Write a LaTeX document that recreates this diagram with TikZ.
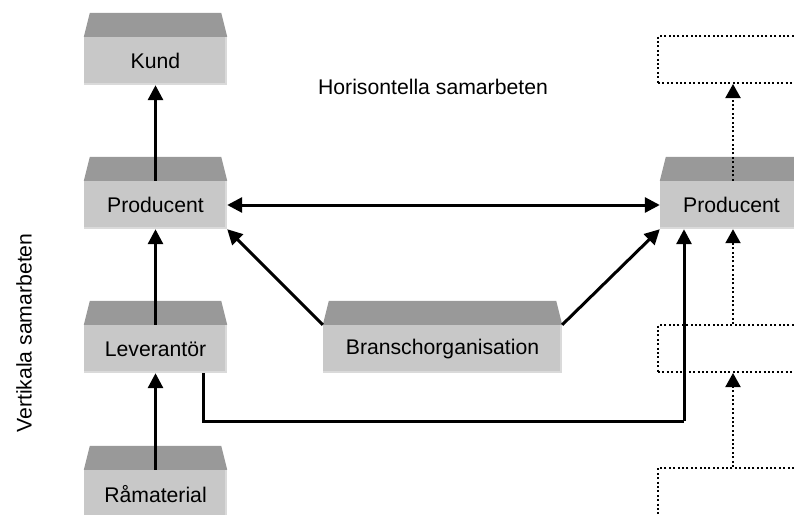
\documentclass[tikz,border=0pt]{standalone}
\usepackage{fontspec}
\setmainfont{Liberation Sans}
\usetikzlibrary{arrows.meta,calc}
\definecolor{frontgray}{HTML}{C8C8C8}
\definecolor{topgray}{HTML}{999999}
\definecolor{edgegray}{HTML}{DADADA}
% slanted top of a raised box, drawn above its front face
\newcommand\drawtop[1]{%
  \fill[topgray] (#1.north west) -- ++(6,-24) -- ($(#1.north east)+(-6,-24)$) -- (#1.north east) -- cycle;
  \draw[edgegray,line width=2pt] ($(#1.north east)+(-1,0)$) -- ($(#1.south east)+(-1,-1)$) -- ($(#1.south west)+(0,-1)$);
}
\begin{document}
\begin{tikzpicture}[x=1pt,y=-1pt,
  font=\fontsize{21.2}{25}\selectfont,
  box3d/.style={fill=frontgray,inner sep=0pt,minimum height=48pt,minimum width=143pt},
  dotbox/.style={draw,line width=2pt,dash pattern=on 2pt off 2.4pt,inner sep=0pt,minimum width=150pt},
  conn/.style={line width=3pt,-{Triangle[length=15pt,width=15pt]}},
  dconn/.style={line width=2pt,dash pattern=on 2pt off 2.4pt,-{Triangle[length=14pt,width=15pt]}}]
\useasboundingbox (0,0) rectangle (794,514);

% raised boxes
\node[box3d] (kund)  at (155.5,61)  {Kund};
\node[box3d] (prodL) at (155.5,205) {Producent};
\node[box3d] (lev)   at (155.5,349) {Leverantör};
\node[box3d] (ram)   at (155.5,494) {Råmaterial};
\node[box3d,minimum width=239pt] (bransch) at (442.5,349) {Branschorganisation};
\node[box3d] (prodR) at (731.5,205) {Producent};
\foreach \b in {kund,prodL,lev,ram,bransch,prodR} {\drawtop{\b}}

% dotted boxes on the right
\node[dotbox,minimum height=47pt] (dotTop) at (733,59.5) {};
\node[dotbox,minimum height=47pt] (dotMid) at (733,348.5) {};
\node[dotbox,minimum height=100pt] (dotBot) at (733,518) {};

% labels
\node (horis) at (433,87) {Horisontella samarbeten};
\node[rotate=90] (vert) at (24,333) {Vertikala samarbeten};

% vertical chain
\draw[conn] (prodL.north) -- (kund.south);
\draw[conn] (lev.north) -- (prodL.south);
\draw[conn] (ram.north) -- (lev.south);

% horizontal links
\draw[line width=3pt,{Triangle[length=15pt,width=15pt]}-{Triangle[length=15pt,width=15pt]}] (prodL.east) -- (prodR.west);
\draw[conn] (bransch.north west) -- (prodL.south east);
\draw[conn] (bransch.north east) -- (prodR.south west);

% supplier to the other producer
\coordinate (levout) at ($(lev.south east)+(-24,0)$);
\coordinate (prodRin) at ($(prodR.south west)+(23,0)$);
\coordinate (bend) at (684,421);
\draw[conn,-] (levout) |- (bend);
\draw[conn] (bend) -- (bend |- prodRin);

% dotted chain
\draw[dconn] (dotTop.south |- prodR.north) -- (dotTop.south);
\draw[dconn] (dotMid.north) -- (dotMid.north |- prodR.south);
\draw[dconn] (dotBot.north) -- (dotMid.south);
\end{tikzpicture}
\end{document}
